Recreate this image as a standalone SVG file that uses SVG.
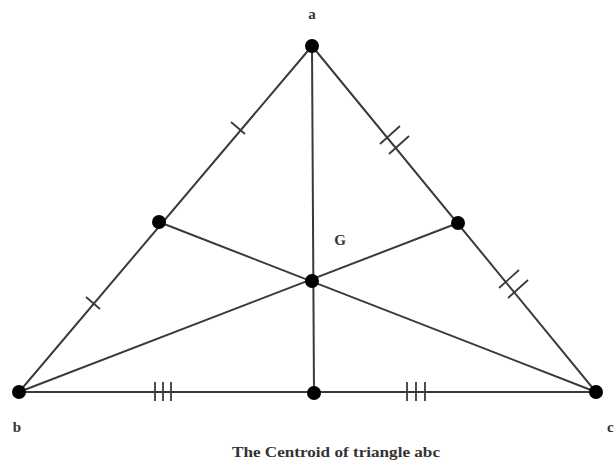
<svg xmlns="http://www.w3.org/2000/svg" width="616" height="468" viewBox="0 0 616 468">
<style>
.ln{stroke:#3a3a3a;stroke-width:2;fill:none}
.tk{stroke:#3a3a3a;stroke-width:1.8;fill:none}
.dot{fill:#000}
.lbl{font-family:"Liberation Serif",serif;font-size:15px;font-weight:bold;fill:#333}
</style>
<rect width="616" height="468" fill="#fff"/>
<g id="connectors">
<polyline class="ln" points="312,46 19,392 596,392 312,46"/>
<line class="ln" x1="312" y1="46" x2="314" y2="393"/>
<line class="ln" x1="159" y1="222" x2="596" y2="392"/>
<line class="ln" x1="458" y1="223" x2="19" y2="392"/>
</g>
<g id="ticks">
<line class="tk" x1="231" y1="122" x2="245" y2="134"/>
<line class="tk" x1="86" y1="297" x2="100" y2="309"/>
<line class="tk" x1="380" y1="144" x2="400" y2="126"/>
<line class="tk" x1="389" y1="154" x2="409" y2="136"/>
<line class="tk" x1="499" y1="288" x2="519" y2="270"/>
<line class="tk" x1="508" y1="298" x2="528" y2="280"/>
<line class="tk" x1="155" y1="382" x2="155" y2="401"/>
<line class="tk" x1="163" y1="382" x2="163" y2="401"/>
<line class="tk" x1="171" y1="382" x2="171" y2="401"/>
<line class="tk" x1="407" y1="382" x2="407" y2="401"/>
<line class="tk" x1="416" y1="382" x2="416" y2="401"/>
<line class="tk" x1="425" y1="382" x2="425" y2="401"/>
</g>
<g id="node-a"><circle class="dot" cx="312" cy="46" r="7"/><text class="lbl" x="312" y="19" text-anchor="middle">a</text></g>
<g id="node-b"><circle class="dot" cx="19" cy="392" r="7"/><text class="lbl" x="17" y="432" text-anchor="middle">b</text></g>
<g id="node-c"><circle class="dot" cx="596" cy="392" r="7"/><text class="lbl" x="607" y="432">c</text></g>
<g id="node-mab"><circle class="dot" cx="159" cy="222" r="7"/></g>
<g id="node-mac"><circle class="dot" cx="458" cy="223" r="7"/></g>
<g id="node-mbc"><circle class="dot" cx="314" cy="393" r="7"/></g>
<g id="node-G"><circle class="dot" cx="312" cy="281" r="7"/><text class="lbl" x="340" y="245" text-anchor="middle">G</text></g>
<text class="lbl" x="336" y="457" text-anchor="middle" textLength="208" lengthAdjust="spacingAndGlyphs">The Centroid of triangle abc</text>
</svg>
